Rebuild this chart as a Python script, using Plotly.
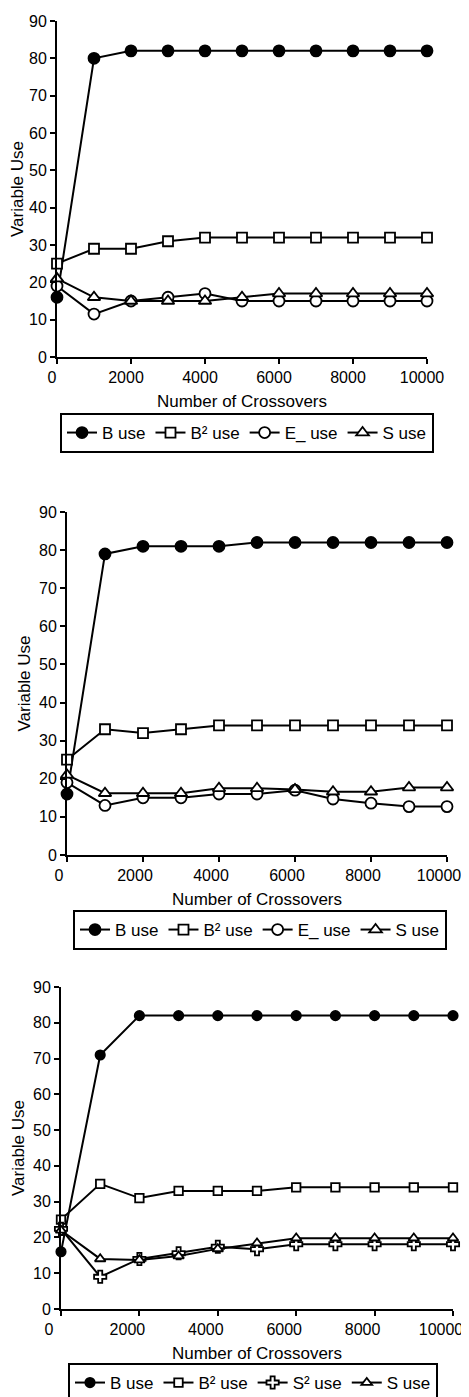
import plotly.graph_objects as go

W, H = 469, 1397

crossovers = [0, 1000, 2000, 3000, 4000, 5000, 6000, 7000, 8000, 9000, 10000]

# Panel 1
p1_b = [16, 80, 82, 82, 82, 82, 82, 82, 82, 82, 82]
p1_b2 = [25, 29, 29, 31, 32, 32, 32, 32, 32, 32, 32]
p1_e = [19, 11.5, 15, 16, 17, 15, 15, 15, 15, 15, 15]
p1_s = [21, 16, 15, 15, 15, 16, 17, 17, 17, 17, 17]

# Panel 2
p2_b = [16, 79, 81, 81, 81, 82, 82, 82, 82, 82, 82]
p2_b2 = [25, 33, 32, 33, 34, 34, 34, 34, 34, 34, 34]
p2_e = [19, 13, 15, 15, 16, 16, 17, 14.7, 13.6, 12.7, 12.7]
p2_s = [21, 16.2, 16.2, 16.2, 17.5, 17.5, 17.2, 16.6, 16.6, 17.7, 17.7]

# Panel 3
p3_b = [16, 71, 82, 82, 82, 82, 82, 82, 82, 82, 82]
p3_b2 = [25, 35, 31, 33, 33, 33, 34, 34, 34, 34, 34]
p3_s2 = [22.4, 9, 14, 15.6, 17.4, 16.7, 18.1, 18.1, 18.1, 18.1, 18.1]
p3_s = [22, 14, 13.7, 14.8, 16.8, 18.4, 19.8, 19.8, 19.8, 19.8, 19.8]

x_ticks = [0, 2000, 4000, 6000, 8000, 10000]
y_ticks = [0, 10, 20, 30, 40, 50, 60, 70, 80, 90]

FONT = "Liberation Sans, Arial, sans-serif"
OFF = 8  # default page body margin

def px_x(p):
    return (p - OFF) / W

def px_y(p):
    return 1 - (p - OFF) / H

panels = [
    dict(x=(57, 427), y=(21, 357), leg=(60, 413), ms=1.0, shift=-5,
         series=[("B use", p1_b, "circle", "black"),
                 ("B² use", p1_b2, "square", "white"),
                 ("E_ use", p1_e, "circle", "white"),
                 ("S use", p1_s, "triangle-up", "white")]),
    dict(x=(67, 447), y=(512, 855), leg=(73, 910), ms=1.0, shift=-8,
         series=[("B use", p2_b, "circle", "black"),
                 ("B² use", p2_b2, "square", "white"),
                 ("E_ use", p2_e, "circle", "white"),
                 ("S use", p2_s, "triangle-up", "white")]),
    dict(x=(61, 453), y=(987, 1309), leg=(68, 1363), ms=0.85, shift=-12,
         series=[("B use", p3_b, "circle", "black"),
                 ("B² use", p3_b2, "square", "white"),
                 ("S² use", p3_s2, "cross", "white"),
                 ("S use", p3_s, "triangle-up", "white")]),
]

sizes = {"circle": 11, "square": 10, "triangle-up": 11, "cross": 12}

fig = go.Figure()
layout = dict(
    template="none",
    width=W, height=H,
    margin=dict(l=0, r=0, t=0, b=0, autoexpand=False),
    paper_bgcolor="white", plot_bgcolor="white",
    font=dict(family=FONT, size=17, color="black"),
    showlegend=True,
)

for i, p in enumerate(panels, start=1):
    sfx = "" if i == 1 else str(i)
    xa, ya = "x" + sfx, "y" + sfx
    leg = "legend" + sfx
    for name, vals, sym, fill in p["series"]:
        fig.add_trace(go.Scatter(
            x=crossovers, y=vals, name=name, mode="lines+markers",
            xaxis=xa, yaxis=ya, legend=leg, cliponaxis=False,
            line=dict(color="black", width=2),
            marker=dict(symbol=sym, size=sizes[sym] * p["ms"], color=fill,
                        line=dict(color="black", width=1.8)),
        ))
    axis_common = dict(
        automargin=False,
        showline=True, linecolor="black", linewidth=2,
        showgrid=False, zeroline=False,
        ticks="outside", tickcolor="black", tickwidth=2, ticklen=5,
        tickfont=dict(family=FONT, size=16, color="black"),
    )
    layout["xaxis" + sfx] = dict(
        domain=[px_x(p["x"][0]), px_x(p["x"][1])], anchor=ya,
        range=[0, 10000], tickvals=x_ticks, ticktext=[str(v) for v in x_ticks],
        ticklabelshift=p["shift"],
        title=dict(text="Number of Crossovers", font=dict(family=FONT, size=17), standoff=10),
        **axis_common)
    layout["yaxis" + sfx] = dict(
        domain=[px_y(p["y"][1]), px_y(p["y"][0])], anchor=xa,
        range=[0, 90], tickvals=y_ticks, ticktext=[str(v) for v in y_ticks],
        title=dict(text="Variable Use", font=dict(family=FONT, size=17), standoff=4),
        **axis_common)
    layout[leg] = dict(
        orientation="h", x=px_x(p["leg"][0]), y=px_y(p["leg"][1]),
        xanchor="left", yanchor="top", xref="paper", yref="paper",
        bordercolor="black", borderwidth=2, bgcolor="white",
        font=dict(family=FONT, size=17, color="black"),
        itemwidth=30, tracegroupgap=0,
    )

fig.update_layout(**layout)
fig.write_html("out.html")
